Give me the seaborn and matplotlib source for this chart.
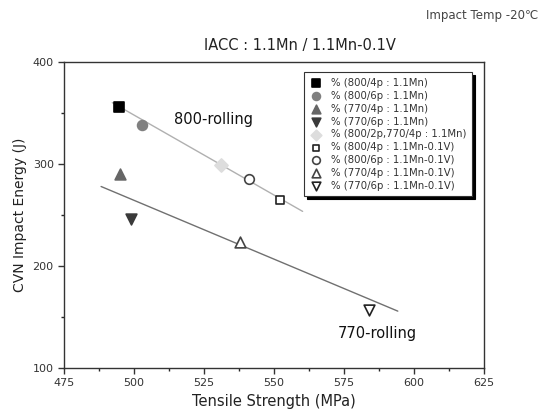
import matplotlib
matplotlib.use("Agg")
import matplotlib.pyplot as plt
import seaborn as sns
import pandas as pd

sns.set_style("white")
plt.rcParams['font.family'] = ['DejaVu Sans']

labels = ["% (800/4p : 1.1Mn)", "% (800/6p : 1.1Mn)", "% (770/4p : 1.1Mn)",
          "% (770/6p : 1.1Mn)", "% (800/2p,770/4p : 1.1Mn)",
          "% (800/4p : 1.1Mn-0.1V)", "% (800/6p : 1.1Mn-0.1V)",
          "% (770/4p : 1.1Mn-0.1V)", "% (770/6p : 1.1Mn-0.1V)"]
tensile = [494.7, 502.9, 495.0, 499.0, 530.9, 552.0, 540.9, 538.0, 583.8]
energy = [356, 338, 290, 246, 299, 265, 285, 223, 157]
markers = ["s", "o", "^", "v", "D", "s", "o", "^", "v"]
faces = ["#000000", "#808080", "#666666", "#3a3a3a", "#dddddd",
         "white", "white", "white", "white"]
edges = ["#000000", "#808080", "#666666", "#3a3a3a", "#dddddd",
         "#222222", "#444444", "#444444", "#222222"]
sizes = [42, 50, 60, 60, 45, 38, 48, 60, 60]

fit800_x = [492.2, 560.2]
fit800_y = [360, 253.4]
fit770_x = [488.2, 594.2]
fit770_y = [277.8, 155.6]

fig = plt.figure(figsize=(5.39, 4.18), dpi=100)
ax = fig.add_axes([0.119, 0.120, 0.779, 0.732])

sns.lineplot(x=fit800_x, y=fit800_y, ax=ax, color="#b0b0b0", lw=1.0)
sns.lineplot(x=fit770_x, y=fit770_y, ax=ax, color="#707070", lw=1.0)

for i in range(len(labels)):
    df = pd.DataFrame({"x": [tensile[i]], "y": [energy[i]]})
    sns.scatterplot(data=df, x="x", y="y", ax=ax, marker=markers[i], s=sizes[i],
                    color=faces[i], edgecolor=edges[i], linewidth=1.2,
                    label=labels[i], zorder=3)

ax.set_xlim(475, 625)
ax.set_ylim(100, 400)
ax.set_xticks([475, 500, 525, 550, 575, 600, 625])
ax.set_xticks([487.5, 512.5, 537.5, 562.5, 587.5, 612.5], minor=True)
ax.set_yticks([100, 200, 300, 400])
ax.set_yticks([150, 250, 350], minor=True)
ax.tick_params(axis="both", which="major", direction="out", length=4, width=1,
               labelsize=8, colors="#333333", bottom=True, left=True)
ax.tick_params(axis="both", which="minor", direction="out", length=2.5, width=1,
               bottom=True, left=True)
for s in ax.spines.values():
    s.set_color("#333333")
    s.set_linewidth(1.0)
ax.set_xlabel("Tensile Strength (MPa)", fontsize=10.5, color="#222222")
ax.set_ylabel("CVN Impact Energy (J)", fontsize=10, color="#222222")

ax.text(0.355, 0.81, "800-rolling", transform=ax.transAxes, fontsize=10.5, color="#111111",
        ha="center", va="center")
ax.text(0.745, 0.113, "770-rolling", transform=ax.transAxes, fontsize=10.5, color="#111111",
        ha="center", va="center")

fig.text(0.557, 0.892, "IACC : 1.1Mn / 1.1Mn-0.1V", fontsize=10.5, ha="center", va="center",
         color="#222222")
fig.text(0.998, 0.963, "Impact Temp -20℃", fontsize=8.5, ha="right", va="center",
         color="#444444")

leg = ax.legend(loc="upper right", bbox_to_anchor=(0.983, 0.982), fontsize=7.3,
                frameon=True, fancybox=False, shadow={"color": "black", "alpha": 1.0},
                handletextpad=0.9, labelspacing=0.28, borderpad=0.55,
                handlelength=1.2, markerscale=0.8)
leg.get_frame().set_edgecolor("#333333")
leg.get_frame().set_linewidth(0.8)
for t in leg.get_texts():
    t.set_color("#333333")

fig.savefig("out.png", dpi=100)
